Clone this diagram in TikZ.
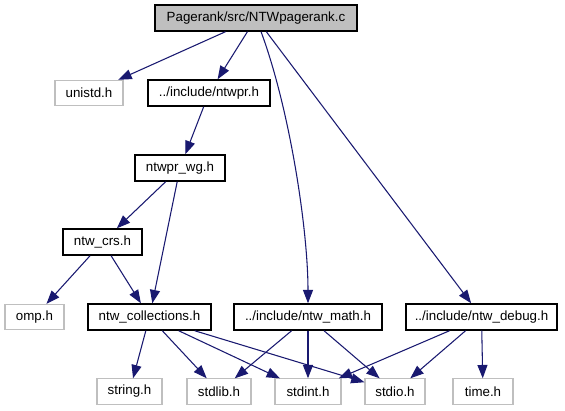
\documentclass[tikz,border=0pt]{standalone}
\usepackage{fontspec}
\setmainfont{Liberation Sans}
\usetikzlibrary{arrows.meta}
\definecolor{navy}{HTML}{191970}
\definecolor{boxgray}{HTML}{BFBFBF}

\begin{document}
\begin{tikzpicture}[x=0.75pt,y=-0.75pt,
  font=\fontsize{10}{12}\selectfont,
  file/.style={draw=black,line width=1.1pt,minimum height=19.5pt,inner sep=0pt},
  sys/.style={draw=boxgray,line width=0.8pt,minimum height=19pt,inner sep=0pt},
  inc/.style={draw=navy,line width=0.8pt,-{Triangle[length=10pt,width=7.5pt]},navy}]
  %
  % Canvas
  \useasboundingbox (0,0) rectangle (565,411);
  %
  % Source file and project headers
  \node[file,fill=boxgray,minimum width=151.5pt] (root) at (256,18) {Pagerank/src/NTWpagerank.c};
  \node[file,minimum width=91.5pt] (ntwpr) at (209,93) {../include/ntwpr.h};
  \node[file,minimum width=67.5pt] (wg) at (180,168) {ntwpr\_wg.h};
  \node[file,minimum width=59.25pt] (crs) at (102.5,242) {ntw\_crs.h};
  \node[file,minimum width=92.25pt] (coll) at (149.5,317) {ntw\_collections.h};
  \node[file,minimum width=111pt] (math) at (308,317) {../include/ntw\_math.h};
  \node[file,minimum width=113.25pt] (debug) at (481.5,317) {../include/ntw\_debug.h};
  %
  % System headers
  \node[sys,minimum width=51pt] (unistd) at (89,93) {unistd.h};
  \node[sys,minimum width=44.25pt] (omp) at (34.5,317) {omp.h};
  \node[sys,minimum width=48.75pt] (string) at (129.5,391.5) {string.h};
  \node[sys,minimum width=48pt] (stdlib) at (219,391.5) {stdlib.h};
  \node[sys,minimum width=49.5pt] (stdint) at (308,391.5) {stdint.h};
  \node[sys,minimum width=45pt] (stdio) at (395,391.5) {stdio.h};
  \node[sys,minimum width=45pt] (time) at (483,391.5) {time.h};
  %
  % Includes
  \draw[inc] (root) -- (unistd);
  \draw[inc] (root) -- (ntwpr);
  \draw[inc] (root) .. controls (290,110) and (308,230) .. (math);
  \draw[inc] (root) -- (debug);
  \draw[inc] (ntwpr) -- (wg);
  \draw[inc] (wg) -- (crs);
  \draw[inc] (wg) -- (coll);
  \draw[inc] (crs) -- (omp);
  \draw[inc] (crs) -- (coll);
  \draw[inc] (coll) -- (string);
  \draw[inc] (coll) -- (stdlib);
  \draw[inc] (coll) -- (stdint);
  \draw[inc] (coll) -- (stdio);
  \draw[inc] (math) -- (stdlib);
  \draw[inc] (math) -- (stdint);
  \draw[inc] (math) -- (stdio);
  \draw[inc] (debug) -- (stdint);
  \draw[inc] (debug) -- (stdio);
  \draw[inc] (debug) -- (time);
\end{tikzpicture}
\end{document}
